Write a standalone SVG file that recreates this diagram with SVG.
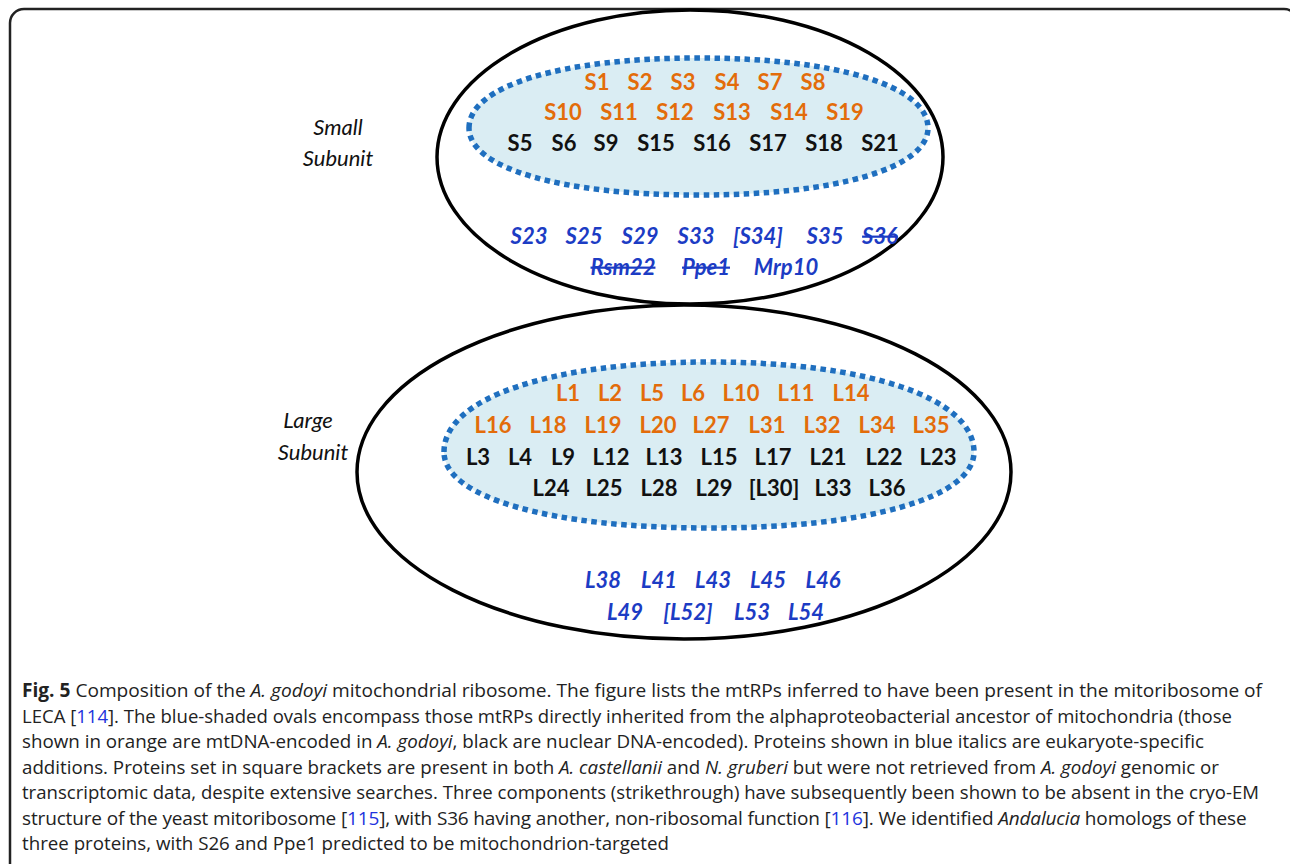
<svg xmlns="http://www.w3.org/2000/svg" width="1290" height="864" viewBox="0 0 1290 864">
<style>
.lbl{font-family:Lato,"Open Sans",sans-serif;font-size:22px;font-style:italic;fill:#111;text-anchor:middle}
.p{font-family:Lato,"Open Sans",sans-serif;font-size:22px;font-weight:700;text-anchor:middle}
.o{fill:#e36c0a}
.k{fill:#111}
.b{fill:#1c3cc4;font-style:italic}
.st{text-decoration:line-through}
.outer{fill:none;stroke:#000;stroke-width:3.5}
.inner{fill:#daedf3;stroke:#1f6fbf;stroke-width:5.5;stroke-dasharray:5.5 4.5}
.cap{font-family:"Open Sans","Noto Sans",sans-serif;font-size:19px;fill:#222}
.ref{fill:#2233dd}
</style>
<rect x="10" y="9" width="1288" height="880" rx="14" fill="none" stroke="#222" stroke-width="2.5"/>

<g id="small-subunit">
  <ellipse class="outer" cx="690" cy="157" rx="253" ry="147"/>
  <path class="inner" d="M469,128 C469,86 560.8,58 698.5,58 C836.2,58 928,86 928,128 C928,168.2 836.2,195 698.5,195 C560.8,195 469,168.2 469,128 Z"/>
  <text class="lbl" x="338" y="135">Small</text>
  <text class="lbl" x="338" y="166">Subunit</text>
  <g class="p o">
    <text x="597" y="90">S1</text><text x="640" y="90">S2</text><text x="683" y="90">S3</text><text x="727" y="90">S4</text><text x="770" y="90">S7</text><text x="813" y="90">S8</text>
    <text x="563" y="120">S10</text><text x="619" y="120">S11</text><text x="675" y="120">S12</text><text x="732" y="120">S13</text><text x="789" y="120">S14</text><text x="845" y="120">S19</text>
  </g>
  <g class="p k">
    <text x="520" y="151">S5</text><text x="564" y="151">S6</text><text x="606" y="151">S9</text><text x="656" y="151">S15</text><text x="712" y="151">S16</text><text x="768" y="151">S17</text><text x="824" y="151">S18</text><text x="880" y="151">S21</text>
  </g>
  <g class="p b">
    <text x="529" y="244">S23</text><text x="584" y="244">S25</text><text x="640" y="244">S29</text><text x="696" y="244">S33</text><text x="758" y="244">[S34]</text><text x="825" y="244">S35</text><text class="st" x="880" y="244">S36</text>
    <text class="st" x="623" y="275">Rsm22</text><text class="st" x="706" y="275">Ppe1</text><text x="786" y="275">Mrp10</text>
  </g>
</g>

<g id="large-subunit">
  <ellipse class="outer" cx="684" cy="472" rx="327" ry="167"/>
  <path class="inner" d="M444,452 C444,398 550,362 709,362 C868,362 974,398 974,452 C974,497.6 868,528 709,528 C550,528 444,497.6 444,452 Z"/>
  <text class="lbl" x="308" y="428">Large</text>
  <text class="lbl" x="313" y="460">Subunit</text>
  <g class="p o">
    <text x="568" y="401">L1</text><text x="610" y="401">L2</text><text x="652" y="401">L5</text><text x="693" y="401">L6</text><text x="741" y="401">L10</text><text x="796" y="401">L11</text><text x="851" y="401">L14</text>
    <text x="493" y="433">L16</text><text x="548" y="433">L18</text><text x="603" y="433">L19</text><text x="658" y="433">L20</text><text x="711" y="433">L27</text><text x="767" y="433">L31</text><text x="822" y="433">L32</text><text x="877" y="433">L34</text><text x="931" y="433">L35</text>
  </g>
  <g class="p k">
    <text x="478" y="465">L3</text><text x="520" y="465">L4</text><text x="563" y="465">L9</text><text x="611" y="465">L12</text><text x="664" y="465">L13</text><text x="719" y="465">L15</text><text x="773" y="465">L17</text><text x="828" y="465">L21</text><text x="884" y="465">L22</text><text x="938" y="465">L23</text>
    <text x="551" y="496">L24</text><text x="604" y="496">L25</text><text x="659" y="496">L28</text><text x="714" y="496">L29</text><text x="774" y="496">[L30]</text><text x="833" y="496">L33</text><text x="887" y="496">L36</text>
  </g>
  <g class="p b">
    <text x="603" y="588">L38</text><text x="659" y="588">L41</text><text x="713" y="588">L43</text><text x="768" y="588">L45</text><text x="823" y="588">L46</text>
    <text x="625" y="620">L49</text><text x="688" y="620">[L52]</text><text x="752" y="620">L53</text><text x="806" y="620">L54</text>
  </g>
</g>

<g id="caption" class="cap">
  <text x="22" y="697" textLength="1240" lengthAdjust="spacingAndGlyphs"><tspan font-weight="700">Fig. 5</tspan> Composition of the <tspan font-style="italic">A. godoyi</tspan> mitochondrial ribosome. The figure lists the mtRPs inferred to have been present in the mitoribosome of</text>
  <text x="22" y="722.5" textLength="1210" lengthAdjust="spacingAndGlyphs">LECA [<tspan class="ref">114</tspan>]. The blue-shaded ovals encompass those mtRPs directly inherited from the alphaproteobacterial ancestor of mitochondria (those</text>
  <text x="22" y="748" textLength="1182" lengthAdjust="spacingAndGlyphs">shown in orange are mtDNA-encoded in <tspan font-style="italic">A. godoyi</tspan>, black are nuclear DNA-encoded). Proteins shown in blue italics are eukaryote-specific</text>
  <text x="22" y="773.5" textLength="1197" lengthAdjust="spacingAndGlyphs">additions. Proteins set in square brackets are present in both <tspan font-style="italic">A. castellanii</tspan> and <tspan font-style="italic">N. gruberi</tspan> but were not retrieved from <tspan font-style="italic">A. godoyi</tspan> genomic or</text>
  <text x="22" y="799" textLength="1237" lengthAdjust="spacingAndGlyphs">transcriptomic data, despite extensive searches. Three components (strikethrough) have subsequently been shown to be absent in the cryo-EM</text>
  <text x="22" y="824.5" letter-spacing="-0.15">structure of the yeast mitoribosome [<tspan class="ref">115</tspan>], with S36 having another, non-ribosomal function [<tspan class="ref">116</tspan>]. We identified <tspan font-style="italic">Andalucia</tspan> homologs of these</text>
  <text x="22" y="850" textLength="647" lengthAdjust="spacingAndGlyphs">three proteins, with S26 and Ppe1 predicted to be mitochondrion-targeted</text>
</g>
</svg>
